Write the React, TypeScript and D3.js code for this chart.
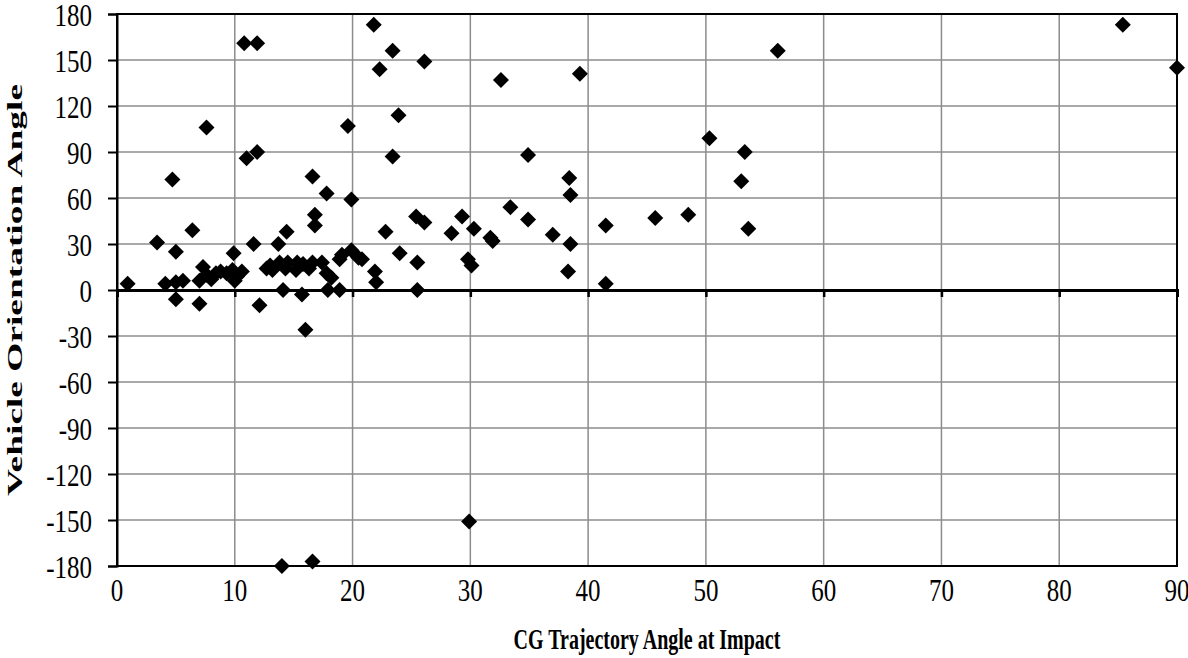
import { useEffect, useRef } from "react"
import * as d3 from "d3"

// CG trajectory angle at impact (deg)
const trajectoryAngle = [
  0.9, 3.4, 4.1, 4.7, 5.0, 5.0, 5.0, 5.6, 6.4, 7.0,
  7.0, 7.3, 7.6, 7.6, 8.0, 8.4, 8.8, 9.3, 9.8, 10.2,
  10.6, 10.0, 9.9, 10.8, 11.0, 11.6, 11.9, 11.9, 12.1, 12.7,
  13.0, 13.2, 13.7, 13.8, 14.0, 14.1, 14.3, 14.4, 14.5, 15.2,
  15.3, 15.7, 15.8, 16.0, 16.3, 16.6, 16.6, 16.6, 16.8, 16.8,
  17.4, 17.8, 17.8, 17.9, 18.2, 18.9, 18.9, 19.1, 19.6, 19.9,
  19.9, 20.5, 20.8, 21.8, 21.9, 22.0, 22.3, 22.8, 23.4, 23.4,
  23.9, 24.0, 25.4, 25.5, 25.5, 26.1, 26.1, 28.4, 29.3, 29.8,
  30.1, 29.9, 30.3, 31.7, 31.9, 32.6, 33.4, 34.9, 34.9, 37.0,
  38.3, 38.4, 38.5, 38.5, 39.3, 41.5, 41.5, 45.7, 48.5, 50.3,
  53.0, 53.3, 53.6, 56.1, 85.4, 90.0,
]

// Vehicle orientation angle (deg)
const orientationAngle = [
  4, 31, 4, 72, 25, -6, 5, 6, 39, -9,
  6, 15, 106, 10, 7, 11, 12, 11, 13, 9,
  12, 6, 24, 161, 86, 30, 161, 90, -10, 14,
  16, 13, 30, 18, -180, 0, 14, 38, 18, 13,
  18, -3, 17, -26, 14, 18, -177, 74, 49, 42,
  18, 63, 11, 0, 8, 0, 20, 23, 107, 59,
  26, 21, 20, 173, 12, 5, 144, 38, 156, 87,
  114, 24, 48, 0, 18, 44, 149, 37, 48, 20,
  16, -151, 40, 34, 32, 137, 54, 88, 46, 36,
  12, 73, 62, 30, 141, 42, 4, 47, 49, 99,
  71, 90, 40, 156, 173, 145,
]

const xTicks = [0, 10, 20, 30, 40, 50, 60, 70, 80, 90]
const yTicks = [-180, -150, -120, -90, -60, -30, 0, 30, 60, 90, 120, 150, 180]

const xTitle = "CG Trajectory Angle at Impact"
const yTitle = "Vehicle Orientation Angle"

export default function App() {
  const svgRef = useRef<SVGSVGElement>(null)
  const width = 1188
  const height = 658
  const margin = { top: 14, right: 11, bottom: 92, left: 117 }

  useEffect(() => {
    if (!svgRef.current) return
    document.body.style.margin = "0"

    const svg = d3.select(svgRef.current)
    svg.selectAll("*").remove()

    const font = "'Liberation Serif', 'Times New Roman', serif"

    const x = d3
      .scaleLinear()
      .domain([0, 90])
      .range([margin.left, width - margin.right])
    const y = d3
      .scaleLinear()
      .domain([-180, 180])
      .range([height - margin.bottom, margin.top])

    // gridlines
    const grid = svg.append("g")
    grid
      .selectAll("line.v")
      .data(xTicks)
      .enter()
      .append("line")
      .attr("x1", (d) => x(d))
      .attr("x2", (d) => x(d))
      .attr("y1", y(180))
      .attr("y2", y(-180))
      .attr("stroke", "#8c8c8c")
      .attr("stroke-width", 1.5)
    grid
      .selectAll("line.h")
      .data(yTicks)
      .enter()
      .append("line")
      .attr("x1", x(0))
      .attr("x2", x(90))
      .attr("y1", (d) => y(d))
      .attr("y2", (d) => y(d))
      .attr("stroke", "#8c8c8c")
      .attr("stroke-width", 1.5)

    // plot border
    svg
      .append("rect")
      .attr("x", x(0))
      .attr("y", y(180))
      .attr("width", x(90) - x(0))
      .attr("height", y(-180) - y(180))
      .attr("fill", "none")
      .attr("stroke", "#000")
      .attr("stroke-width", 2)

    // y axis (left) with outward ticks, labels drawn separately
    const yAxis = svg
      .append("g")
      .attr("transform", `translate(${x(0)},0)`)
      .call(d3.axisLeft(y).tickValues(yTicks).tickSize(9).tickFormat(() => ""))
    yAxis.select(".domain").attr("stroke", "#000").attr("stroke-width", 2)
    yAxis.selectAll(".tick line").attr("stroke", "#000").attr("stroke-width", 2)

    // the source image text is stretched vertically, so labels get a y-scale
    svg
      .append("g")
      .selectAll("text")
      .data(yTicks)
      .enter()
      .append("text")
      .attr("transform", (d) => `translate(92,${y(d) + 1}) scale(1,1.25)`)
      .attr("dy", "0.34em")
      .attr("text-anchor", "end")
      .attr("font-family", font)
      .attr("font-size", 25)
      .text((d) => d)

    // x axis along zero
    const xAxis = svg
      .append("g")
      .attr("transform", `translate(0,${y(0)})`)
      .call(d3.axisBottom(x).tickValues(xTicks).tickSize(7).tickFormat(() => ""))
    xAxis.select(".domain").attr("stroke", "#000").attr("stroke-width", 3)
    xAxis.selectAll(".tick line").attr("stroke", "#000").attr("stroke-width", 2.5)

    // x tick labels below the plot
    svg
      .append("g")
      .selectAll("text")
      .data(xTicks)
      .enter()
      .append("text")
      .attr("transform", (d) => `translate(${x(d)},${y(-180) + 24}) scale(1,1.25)`)
      .attr("dy", "0.34em")
      .attr("text-anchor", "middle")
      .attr("font-family", font)
      .attr("font-size", 25)
      .text((d) => d)

    // points
    const points = trajectoryAngle.map((v, i) => ({ x: v, y: orientationAngle[i] }))
    const r = 8
    svg
      .append("g")
      .selectAll("path")
      .data(points)
      .enter()
      .append("path")
      .attr("transform", (d) => `translate(${x(d.x)},${y(d.y)})`)
      .attr("d", `M0,${-r}L${r},0L0,${r}L${-r},0Z`)
      .attr("fill", "#000")

    // titles
    svg
      .append("text")
      .attr("transform", `translate(${(x(0) + x(90)) / 2},639) scale(1,1.45)`)
      .attr("dy", "0.34em")
      .attr("text-anchor", "middle")
      .attr("font-family", font)
      .attr("font-size", 20)
      .attr("font-weight", "bold")
      .text(xTitle)

    svg
      .append("text")
      .attr("transform", `translate(15,${y(0)}) rotate(-90) scale(1.7,1)`)
      .attr("dy", "0.34em")
      .attr("text-anchor", "middle")
      .attr("font-family", font)
      .attr("font-size", 22)
      .attr("font-weight", "bold")
      .text(yTitle)
  }, [])

  return (
    <div style={{ width, height, background: "#fff" }}>
      <svg ref={svgRef} width={width} height={height}></svg>
    </div>
  )
}
